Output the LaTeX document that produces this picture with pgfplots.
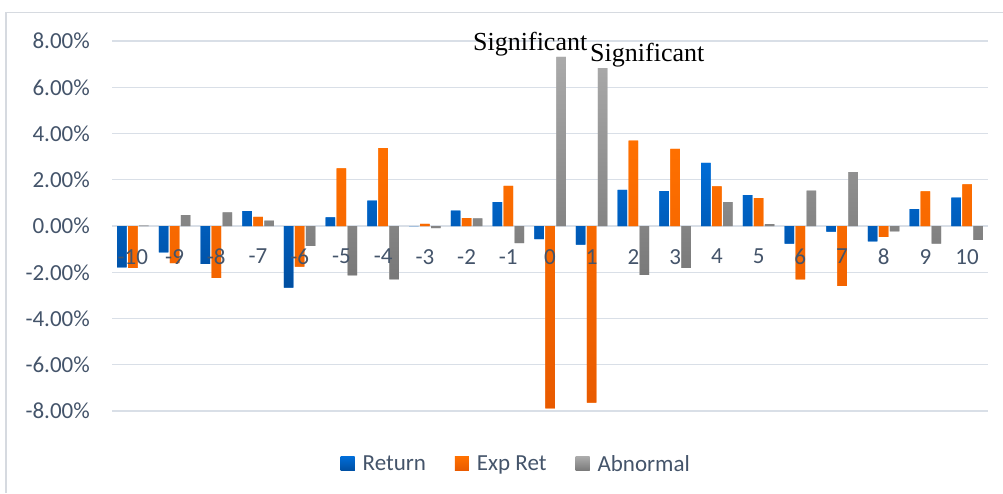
\documentclass[border=0pt]{standalone}
\usepackage{pgfplots}
\pgfplotsset{compat=1.18}
\usepackage{fontspec}
\setmainfont{Carlito}
\newfontfamily\seriffont{Liberation Serif}
\definecolor{txt}{RGB}{68,84,106}
\definecolor{gridc}{RGB}{217,223,231}
\definecolor{frame}{RGB}{214,218,224}
\definecolor{retT}{RGB}{0,108,214}
\definecolor{retB}{RGB}{0,78,160}
\definecolor{expT}{RGB}{255,112,0}
\definecolor{expB}{RGB}{232,90,0}
\definecolor{abnT}{RGB}{170,170,170}
\definecolor{abnB}{RGB}{120,120,120}
\pgfplotsset{
  common/.style={
    at={(112pt,82pt)}, anchor=south west,
    scale only axis, width=876pt, height=370pt,
    xmin=-10.5, xmax=10.5, ymin=-8, ymax=8,
    major tick length=0pt,
    tick label style={font=\fontsize{23}{27}\selectfont, text=txt},
    hide obscured x ticks=false, hide obscured y ticks=false,
    clip=false,
  }
}
\pgfplotstableread{
x ret exp abn
-10 -1.79 -1.81 0.02
-9 -1.14 -1.61 0.47
-8 -1.64 -2.24 0.59
-7 0.64 0.40 0.23
-6 -2.67 -1.76 -0.86
-5 0.37 2.49 -2.14
-4 1.10 3.37 -2.31
-3 0.00 0.09 -0.09
-2 0.67 0.34 0.33
-1 1.03 1.74 -0.74
0 -0.57 -7.89 7.31
1 -0.81 -7.64 6.83
2 1.56 3.69 -2.11
3 1.51 3.33 -1.81
4 2.73 1.71 1.03
5 1.33 1.21 0.08
6 -0.76 -2.31 1.53
7 -0.24 -2.59 2.33
8 -0.67 -0.47 -0.23
9 0.73 1.50 -0.76
10 1.23 1.80 -0.60
}\datatable
\begin{document}
\begin{tikzpicture}[x=1pt,y=1pt]
\useasboundingbox (0,0) rectangle (1003,493);
\draw[frame, line width=1.2pt] (6,0) -- (6,480.3) -- (1003,480.3);
\begin{axis}[
  common,
  axis x line=middle, axis y line=left,
  x axis line style={draw=gridc, line width=1.3pt, -},
  y axis line style={draw=none},
  xtick=\empty,
  ytick={-8,-6,...,8},
  yticklabels={-8.00\%,-6.00\%,-4.00\%,-2.00\%,0.00\%,2.00\%,4.00\%,6.00\%,8.00\%},
  ymajorgrids,
  grid style={draw=gridc, line width=1.3pt},
  yticklabel style={anchor=east, inner sep=0pt, xshift=-22pt},
  ybar=1.5pt, bar width=9.5pt,
  legend columns=3,
  legend style={at={(0.4615,-0.143)}, anchor=center, draw=none, fill=none,
    font=\fontsize{23}{27}\selectfont, text=txt,
    /tikz/every even column/.append style={column sep=27pt}},
  legend image code/.code={\fill[#1] (0pt,-7pt) rectangle (14pt,7pt); \path (20pt,0pt);},
]
\addplot[draw=none, top color=retT, bottom color=retB, fill=retT] table[x=x,y=ret] {\datatable};
\addplot[draw=none, top color=expT, bottom color=expB, fill=expT] table[x=x,y=exp] {\datatable};
\addplot[draw=none, top color=abnT, bottom color=abnB, fill=abnT] table[x=x,y=abn] {\datatable};
\legend{Return, Exp Ret, Abnormal}
\node[anchor=base west, inner sep=0pt, font=\seriffont\fontsize{26}{30}\selectfont] at (axis cs:-1.846,7.58) {Significant};
\node[anchor=base west, inner sep=0pt, font=\seriffont\fontsize{26}{30}\selectfont] at (axis cs:0.959,7.10) {Significant};
\end{axis}
\begin{axis}[
  common,
  axis x line=middle, axis y line=none,
  x axis line style={draw=none},
  xtick={-10,...,10},
  xticklabels={-10,-9,-8,-7,-6,-5,-4,-3,-2,-1,0,1,2,3,4,5,6,7,8,9,10},
  ytick=\empty,
  xticklabel style={anchor=north, inner sep=0pt, yshift=-23pt},
]
\addplot[draw=none, forget plot] coordinates {(0,0)};
\end{axis}
\end{tikzpicture}
\end{document}
